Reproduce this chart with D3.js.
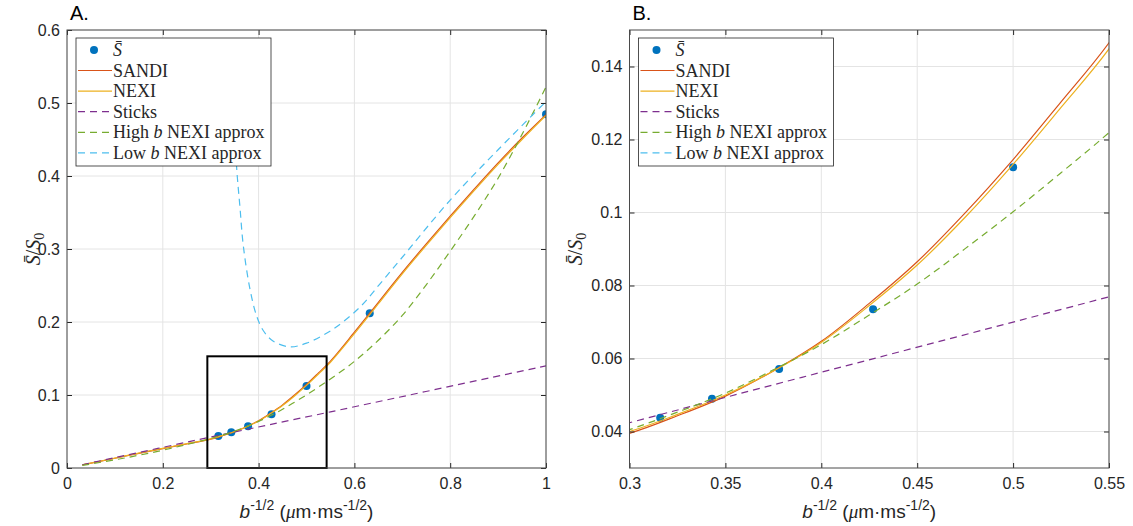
<!DOCTYPE html>
<html>
<head>
<meta charset="utf-8">
<title>Normalised signal vs b^-1/2</title>
<script src="https://d3js.org/d3.v7.min.js"></script>
<style>
    body { margin: 0; background: #ffffff; }
    .tick text { font-family: "Liberation Sans", Arial, sans-serif; font-size: 16px; fill: #262626; }
    .legend text { font-family: "Liberation Serif", "Times New Roman", serif; font-size: 18px; fill: #262626; }
</style>
</head>
<body>
<div id="chart"></div>
<script>
// measured signal (dots)
var pointX = [0.316, 0.343, 0.378, 0.427, 0.5, 0.632, 1.0];
var pointY = [0.0438, 0.049, 0.0571, 0.0735, 0.1124, 0.212, 0.4845];

// model curves
var sandiX = [0.032, 0.1, 0.15, 0.2, 0.25, 0.3, 0.325, 0.35, 0.375, 0.4, 0.425, 0.45, 0.475, 0.5, 0.525, 0.55, 0.6, 0.632, 0.65, 0.7, 0.75, 0.8, 0.85, 0.9, 0.95, 1.0];
var sandiY = [0.0042, 0.0134, 0.0201, 0.0266, 0.0329, 0.0395, 0.0443, 0.0497, 0.0566, 0.0647, 0.0751, 0.0865, 0.0999, 0.1145, 0.1303, 0.1465, 0.186, 0.212, 0.227, 0.268, 0.307, 0.345, 0.382, 0.418, 0.452, 0.484];

var nexiX = sandiX;
var nexiY = [0.0042, 0.0136, 0.0204, 0.0269, 0.0333, 0.04, 0.0447, 0.05, 0.0566, 0.0644, 0.0745, 0.0856, 0.0987, 0.1132, 0.1288, 0.1448, 0.184, 0.21, 0.225, 0.266, 0.305, 0.343, 0.38, 0.416, 0.45, 0.483];

var sticksX = [0.032, 0.3, 0.55, 1.0];
var sticksY = [0.0045, 0.0424, 0.0769, 0.14];

var highX = [0.032, 0.1, 0.15, 0.2, 0.25, 0.3, 0.325, 0.35, 0.375, 0.4, 0.425, 0.45, 0.475, 0.5, 0.525, 0.55, 0.6, 0.65, 0.7, 0.75, 0.8, 0.85, 0.9, 0.95, 1.0];
var highY = [0.0035, 0.0112, 0.0175, 0.0244, 0.0321, 0.0405, 0.0453, 0.0505, 0.0569, 0.0638, 0.0719, 0.0804, 0.0901, 0.1002, 0.1109, 0.1219, 0.146, 0.175, 0.209, 0.251, 0.297, 0.345, 0.397, 0.457, 0.522];

var lowX = [0.348, 0.354, 0.361, 0.368, 0.382, 0.396, 0.41, 0.43, 0.465, 0.5, 0.555, 0.611, 0.653, 0.694, 0.8, 0.9, 1.0];
var lowY = [0.5, 0.413, 0.358, 0.305, 0.245, 0.208, 0.188, 0.174, 0.166, 0.171, 0.19, 0.22, 0.252, 0.284, 0.367, 0.436, 0.502];

var legendNames = ["SANDI", "NEXI", "Sticks", "High b NEXI approx", "Low b NEXI approx"];

// axis ticks
var ticksAX = [0, 0.2, 0.4, 0.6, 0.8, 1];
var ticksAY = [0, 0.1, 0.2, 0.3, 0.4, 0.5, 0.6];
var ticksBX = [0.3, 0.35, 0.4, 0.45, 0.5, 0.55];
var ticksBY = [0.04, 0.06, 0.08, 0.1, 0.12, 0.14];

// zoom window drawn on panel A: [x0, x1, y0, y1]
var zoomBox = [0.293, 0.542, 0, 0.153];

var series = [
    { xs: sandiX, ys: sandiY, color: "#D95319", dash: null },
    { xs: nexiX, ys: nexiY, color: "#EDB120", dash: null },
    { xs: sticksX, ys: sticksY, color: "#7E2F8E", dash: "7,5" },
    { xs: highX, ys: highY, color: "#77AC30", dash: "7,5" },
    { xs: lowX, ys: lowY, color: "#4DBEEE", dash: "7,5" }
];

var svg = d3.select("#chart").append("svg")
    .attr("width", 1133)
    .attr("height", 526);

function drawPanel(p) {
    var x = d3.scaleLinear().domain(p.xDomain).range([p.left, p.right]);
    var y = d3.scaleLinear().domain(p.yDomain).range([468, 30]);
    var g = svg.append("g");

    // grid
    g.selectAll(".gx").data(p.xTicks).enter().append("line")
        .attr("x1", function (d) { return x(d); }).attr("x2", function (d) { return x(d); })
        .attr("y1", y.range()[0]).attr("y2", y.range()[1])
        .attr("stroke", "#e4e4e4").attr("stroke-width", 1);
    g.selectAll(".gy").data(p.yTicks).enter().append("line")
        .attr("y1", function (d) { return y(d); }).attr("y2", function (d) { return y(d); })
        .attr("x1", p.left).attr("x2", p.right)
        .attr("stroke", "#e4e4e4").attr("stroke-width", 1);

    var clipId = "clip" + p.id;
    svg.append("clipPath").attr("id", clipId).append("rect")
        .attr("x", p.left).attr("y", 30)
        .attr("width", p.right - p.left).attr("height", 438);

    var plot = g.append("g").attr("clip-path", "url(#" + clipId + ")");

    plot.selectAll("circle").data(pointX).enter().append("circle")
        .attr("cx", function (d) { return x(d); })
        .attr("cy", function (d, i) { return y(pointY[i]); })
        .attr("r", 4)
        .attr("fill", "#0072BD");

    var line = d3.line()
        .x(function (d) { return x(d[0]); })
        .y(function (d) { return y(d[1]); })
        .curve(d3.curveCatmullRom.alpha(0.5));

    series.forEach(function (s) {
        plot.append("path")
            .datum(d3.zip(s.xs, s.ys))
            .attr("fill", "none")
            .attr("stroke", s.color)
            .attr("stroke-width", 1.2)
            .attr("stroke-dasharray", s.dash)
            .attr("d", line);
    });

    if (p.box) {
        g.append("rect")
            .attr("x", x(p.box[0])).attr("y", y(p.box[3]))
            .attr("width", x(p.box[1]) - x(p.box[0]))
            .attr("height", y(p.box[2]) - y(p.box[3]))
            .attr("fill", "none").attr("stroke", "#000").attr("stroke-width", 2);
    }

    // axes, MATLAB style: inward ticks on all four sides
    var fmt = function (d) { return d3.format("")(+d.toFixed(3)); };
    g.append("g").attr("transform", "translate(0,468)")
        .call(d3.axisBottom(x).tickValues(p.xTicks).tickFormat(fmt).tickSizeInner(-5).tickSizeOuter(0).tickPadding(10));
    g.append("g").attr("transform", "translate(0,30)")
        .call(d3.axisTop(x).tickValues(p.xTicks).tickFormat("").tickSizeInner(-5).tickSizeOuter(0));
    g.append("g").attr("transform", "translate(" + p.left + ",0)")
        .call(d3.axisLeft(y).tickValues(p.yTicks).tickFormat(fmt).tickSizeInner(-5).tickSizeOuter(0).tickPadding(7));
    g.append("g").attr("transform", "translate(" + p.right + ",0)")
        .call(d3.axisRight(y).tickValues(p.yTicks).tickFormat("").tickSizeInner(-5).tickSizeOuter(0));
    g.selectAll(".domain").remove();
    g.selectAll(".tick line").attr("stroke", "#262626");

    g.append("rect")
        .attr("x", p.left).attr("y", 30)
        .attr("width", p.right - p.left).attr("height", 438)
        .attr("fill", "none").attr("stroke", "#4a4a4a").attr("stroke-width", 1);

    // panel letter
    g.append("text").attr("x", p.left + 3).attr("y", 20)
        .style("font-family", "Liberation Sans, Arial, sans-serif")
        .style("font-size", "20px").style("fill", "#000")
        .text(p.id + ".");

    // y label
    var yl = g.append("text")
        .attr("transform", "translate(" + p.yLabelX + ",249) rotate(-90)")
        .attr("text-anchor", "middle")
        .style("font-family", "Liberation Serif, serif")
        .style("font-size", "20px").style("fill", "#262626");
    yl.append("tspan").style("font-style", "italic").text("S\u0304");
    yl.append("tspan").text("/");
    yl.append("tspan").style("font-style", "italic").text("S");
    yl.append("tspan").attr("dy", 4).style("font-size", "14px").text("0");

    // x label
    var xl = g.append("text")
        .attr("x", (p.left + p.right) / 2).attr("y", 518)
        .attr("text-anchor", "middle")
        .style("font-family", "Liberation Sans, Arial, sans-serif")
        .style("font-size", "19px").style("fill", "#262626");
    xl.append("tspan").style("font-style", "italic").text("b");
    xl.append("tspan").attr("dy", -8).style("font-size", "14px").text("-1/2");
    xl.append("tspan").attr("dy", 8).text(" (");
    xl.append("tspan").style("font-style", "italic").style("font-family", "Liberation Serif, serif").text("\u03bc");
    xl.append("tspan").text("m\u00b7ms");
    xl.append("tspan").attr("dy", -8).style("font-size", "14px").text("-1/2");
    xl.append("tspan").attr("dy", 8).text(")");

    // legend
    var lx = p.left + 9, ly = 38;
    var lg = g.append("g").attr("class", "legend");
    lg.append("rect").attr("x", lx).attr("y", ly).attr("width", 195).attr("height", 128)
        .attr("fill", "#fff").attr("stroke", "#262626").attr("stroke-width", 0.8);
    lg.append("circle").attr("cx", lx + 18).attr("cy", ly + 12).attr("r", 4).attr("fill", "#0072BD");
    lg.append("text").attr("x", lx + 37).attr("y", ly + 18).style("font-style", "italic").text("S\u0304");
    series.forEach(function (s, i) {
        var yy = ly + 32.5 + i * 20.6;
        lg.append("line").attr("x1", lx + 2).attr("x2", lx + 36)
            .attr("y1", yy).attr("y2", yy)
            .attr("stroke", s.color).attr("stroke-width", 1.2)
            .attr("stroke-dasharray", s.dash);
        var t = lg.append("text").attr("x", lx + 37).attr("y", yy + 6);
        var name = legendNames[i];
        if (name.indexOf(" b ") > 0) {
            var parts = name.split(" b ");
            t.append("tspan").text(parts[0] + " ");
            t.append("tspan").style("font-style", "italic").text("b");
            t.append("tspan").text(" " + parts[1]);
        } else {
            t.text(name);
        }
    });
}

drawPanel({ id: "A", xDomain: [0, 1], yDomain: [0, 0.6], left: 67, right: 546,
    xTicks: ticksAX, yTicks: ticksAY, yLabelX: 40, box: zoomBox });
drawPanel({ id: "B", xDomain: [0.3, 0.55], yDomain: [0.03, 0.15], left: 629.5, right: 1109,
    xTicks: ticksBX, yTicks: ticksBY, yLabelX: 582, box: null });
</script>
</body>
</html>
